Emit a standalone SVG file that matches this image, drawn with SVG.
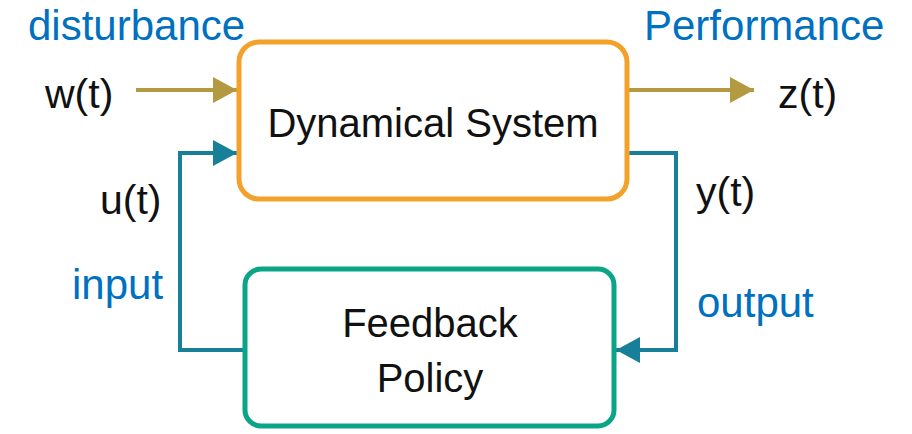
<svg xmlns="http://www.w3.org/2000/svg" width="912" height="434" viewBox="0 0 912 434">
<style>
.lbl{font-family:"Liberation Sans",Arial,sans-serif;font-size:42px;fill:#0070C0}
.sig{font-family:"Liberation Sans",Arial,sans-serif;font-size:41px;fill:#111}
.box{font-family:"Liberation Sans",Arial,sans-serif;font-size:40px;fill:#111;text-anchor:middle}
.gold{stroke:#B39A40;stroke-width:4;fill:none}
.teal{stroke:#177F98;stroke-width:4;fill:none}
</style>
<defs>
<marker id="ag" markerUnits="userSpaceOnUse" markerWidth="26" markerHeight="26" refX="24" refY="13" orient="auto">
<path d="M0,0 L24,13 L0,26 Z" fill="#B39A40"/>
</marker>
<marker id="at" markerUnits="userSpaceOnUse" markerWidth="26" markerHeight="26" refX="24" refY="13" orient="auto">
<path d="M0,0 L24,13 L0,26 Z" fill="#177F98"/>
</marker>
</defs>
<rect width="912" height="434" fill="#fff"/>
<g id="connectors">
<line class="gold" x1="136" y1="90" x2="237" y2="90" marker-end="url(#ag)"/>
<line class="gold" x1="629" y1="90" x2="754" y2="90" marker-end="url(#ag)"/>
<polyline class="teal" points="245,350 180,350 180,153 237,153" marker-end="url(#at)"/>
<polyline class="teal" points="629,153 676,153 676,350 616,350" marker-end="url(#at)"/>
</g>
<g id="dynamical-system">
<rect x="239" y="42" width="388" height="157" rx="20" fill="none" stroke="#F4A12B" stroke-width="5"/>
<text class="box" x="433" y="137">Dynamical System</text>
</g>
<g id="feedback-policy">
<rect x="245" y="269" width="369" height="157" rx="16" fill="none" stroke="#0AA587" stroke-width="5"/>
<text class="box" x="430" y="337">Feedback</text>
<text class="box" x="430" y="392">Policy</text>
</g>
<g id="labels">
<text class="lbl" x="28" y="40">disturbance</text>
<text class="lbl" x="644" y="40">Performance</text>
<text class="lbl" x="72" y="299">input</text>
<text class="lbl" x="697" y="317">output</text>
<text class="sig" x="45" y="108">w(t)</text>
<text class="sig" x="778" y="108">z(t)</text>
<text class="sig" x="100" y="214">u(t)</text>
<text class="sig" x="696" y="206">y(t)</text>
</g>
</svg>
